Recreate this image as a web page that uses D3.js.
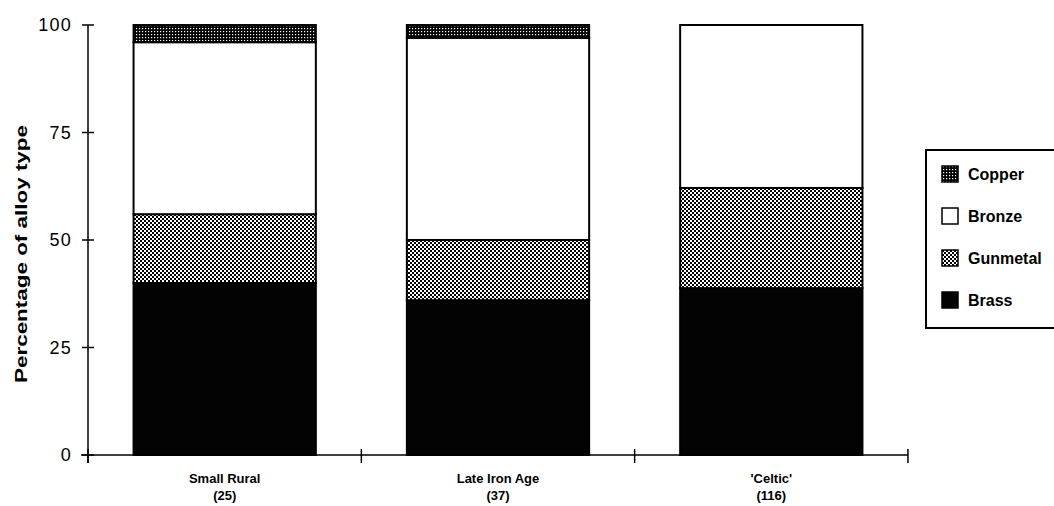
<!DOCTYPE html>
<html><head><meta charset="utf-8">
<script src="https://cdn.jsdelivr.net/npm/d3@7"></script>
<style>
body{margin:0;background:#fff;}
svg{display:block;}
</style></head>
<body>
<svg id="chart" width="1054" height="506"></svg>
<script>
const categories = ["Small Rural", "Late Iron Age", "'Celtic'"];
const counts = ["(25)", "(37)", "(116)"];
const seriesNames = ["Brass", "Gunmetal", "Bronze", "Copper"];
const brass = [40, 36, 38.8];
const gunmetal = [16, 14, 23.3];
const bronze = [40, 47, 37.9];
const copper = [4, 3, 0];
const yTicks = [0, 25, 50, 75, 100];
const legendOrder = ["Copper", "Bronze", "Gunmetal", "Brass"];

const svg = d3.select("#chart");
const defs = svg.append("defs");

// Copper: dark with white dots
const pc = defs.append("pattern").attr("id","pCopper").attr("width",3).attr("height",3).attr("patternUnits","userSpaceOnUse");
pc.append("rect").attr("width",3).attr("height",3).attr("fill","#000");
pc.append("rect").attr("x",1).attr("y",1).attr("width",1.2).attr("height",1.2).attr("fill","#fff");

// Gunmetal: 2px checkerboard
const pg = defs.append("pattern").attr("id","pGun").attr("width",4).attr("height",4).attr("patternUnits","userSpaceOnUse");
pg.append("rect").attr("width",4).attr("height",4).attr("fill","#fff");
pg.append("rect").attr("x",0).attr("y",0).attr("width",2).attr("height",2).attr("fill","#000");
pg.append("rect").attr("x",2).attr("y",2).attr("width",2).attr("height",2).attr("fill","#000");

const fills = {Brass:"#030303", Gunmetal:"url(#pGun)", Bronze:"#fff", Copper:"url(#pCopper)"};

const x = d3.scaleBand().domain(categories).range([88, 908]).paddingInner(0.333).paddingOuter(0.1667);
const y = d3.scaleLinear().domain([0, 100]).range([455, 25]);

const data = categories.map((c,i)=>({cat:c, Brass:brass[i], Gunmetal:gunmetal[i], Bronze:bronze[i], Copper:copper[i]}));
const stack = d3.stack().keys(seriesNames)(data);

const g = svg.append("g");
stack.forEach(layer=>{
  g.selectAll(null).data(layer.filter(d=>d[1]-d[0]>0)).enter().append("rect")
    .attr("x", d=>x(d.data.cat))
    .attr("y", d=>y(d[1]))
    .attr("width", x.bandwidth())
    .attr("height", d=>y(d[0])-y(d[1]))
    .attr("fill", fills[layer.key])
    .attr("stroke","#000").attr("stroke-width",2);
});

// Y axis
const yAxisG = svg.append("g").attr("transform","translate(88,0)");
yAxisG.append("line").attr("x1",0).attr("x2",0).attr("y1",y(100)).attr("y2",y(0)+8).attr("stroke","#000").attr("stroke-width",1.5);
yAxisG.selectAll(".yt").data(yTicks).enter().append("line")
  .attr("x1",-6).attr("x2",6).attr("y1",d=>y(d)).attr("y2",d=>y(d)).attr("stroke","#000").attr("stroke-width",1.5);
yAxisG.selectAll(".yl").data(yTicks).enter().append("text")
  .attr("x",-16).attr("y",d=>y(d)).attr("dy","0.36em").attr("text-anchor","end")
  .attr("font-family","Liberation Sans, Arial, sans-serif").attr("font-size",18).attr("letter-spacing",1.2)
  .text(d=>d);

// X axis
const xb = [88].concat(categories.map(c=>x(c)+x.bandwidth()+x.step()*x.paddingInner()/2));
svg.append("line").attr("x1",81).attr("x2",908).attr("y1",455).attr("y2",455).attr("stroke","#000").attr("stroke-width",1.5);
svg.selectAll(".xt").data(xb).enter().append("line")
  .attr("x1",d=>d).attr("x2",d=>d).attr("y1",449).attr("y2",463).attr("stroke","#000").attr("stroke-width",1.5);
const xl = svg.selectAll(".xl").data(categories).enter().append("text")
  .attr("x",d=>x(d)+x.bandwidth()/2).attr("y",483).attr("text-anchor","middle")
  .attr("font-family","Liberation Sans Narrow, Liberation Sans, Arial, sans-serif").attr("font-weight","bold").attr("font-size",13);
xl.append("tspan").attr("x",d=>x(d)+x.bandwidth()/2).text(d=>d);
xl.append("tspan").attr("x",d=>x(d)+x.bandwidth()/2).attr("dy",17).text((d,i)=>counts[i]);

// Y label
svg.append("text").attr("transform","translate(27,254) rotate(-90)").attr("text-anchor","middle")
  .attr("font-family","Liberation Sans, Arial, sans-serif").attr("font-weight","bold").attr("font-size",16)
  .attr("textLength",258).attr("lengthAdjust","spacingAndGlyphs")
  .text("Percentage of alloy type");

// Legend
const lg = svg.append("g");
lg.append("rect").attr("x",926).attr("y",150).attr("width",140).attr("height",178).attr("fill","#fff").attr("stroke","#000").attr("stroke-width",2);
const items = lg.selectAll(".li").data(legendOrder).enter().append("g")
  .attr("transform",(d,i)=>`translate(942,${174 + i*42})`);
items.append("rect").attr("x",0).attr("y",-8).attr("width",16).attr("height",16)
  .attr("fill",d=>fills[d]).attr("stroke","#000").attr("stroke-width",1.5);
items.append("text").attr("x",26).attr("y",0).attr("dy","0.36em")
  .attr("font-family","Liberation Sans, Arial, sans-serif").attr("font-weight","bold").attr("font-size",16)
  .text(d=>d);
</script>
</body></html>
